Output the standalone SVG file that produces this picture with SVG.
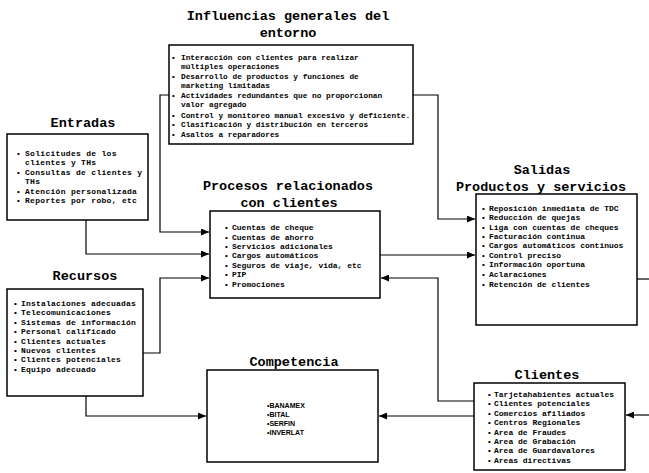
<svg xmlns="http://www.w3.org/2000/svg" width="649" height="473" viewBox="0 0 649 473">
<style>
.box{fill:#fff;stroke:#000;stroke-width:1.5}
.title{font-family:"Liberation Mono",monospace;font-weight:bold;font-size:13.5px;fill:#000;text-anchor:middle}
.it{font-family:"Liberation Mono",monospace;font-weight:bold;font-size:8px;fill:#000}
.sm{font-size:7.8px}
.ws{letter-spacing:0.3px}
.wr{letter-spacing:0.2px}
.comp{font-family:"Liberation Sans",Arial,sans-serif;font-weight:bold;font-size:7px;fill:#000}
.con{fill:none;stroke:#000;stroke-width:1.2}
</style>
<defs>
<marker id="ah" markerUnits="userSpaceOnUse" markerWidth="8" markerHeight="7" refX="8" refY="3.5" orient="auto">
<path d="M0,0 L8,3.5 L0,7 z" fill="#000"/>
</marker>
</defs>
<rect width="649" height="473" fill="#fff"/>

<g id="connectors">
<polyline class="con" points="169,95 160,95 160,232 209,232" marker-end="url(#ah)"/>
<polyline class="con" points="86,220 86,254 209,254" marker-end="url(#ah)"/>
<polyline class="con" points="143,353 160,353 160,278 209,278" marker-end="url(#ah)"/>
<polyline class="con" points="413,95 438,95 438,219 475,219" marker-end="url(#ah)"/>
<polyline class="con" points="380,255 475,255" marker-end="url(#ah)"/>
<polyline class="con" points="474,401 438,401 438,278 381,278" marker-end="url(#ah)"/>
<polyline class="con" points="474,416 379,416" marker-end="url(#ah)"/>
<polyline class="con" points="86,396 86,416 206,416" marker-end="url(#ah)"/>
<polyline class="con" points="649,415 626,415" marker-end="url(#ah)"/>
<line class="con" x1="637" y1="279" x2="649" y2="279"/>
</g>

<g id="influencias">
<text class="title" x="288" y="20">Influencias generales del</text>
<text class="title" x="288" y="37">entorno</text>
<rect class="box" x="169" y="45" width="244" height="99"/>
<text class="it sm" y="60"><tspan x="171">•</tspan><tspan x="181">Interacción con clientes para realizar</tspan></text>
<text class="it sm" x="181" y="69">múltiples operaciones</text>
<text class="it sm" y="79"><tspan x="171">•</tspan><tspan x="181">Desarrollo de productos y funciones de</tspan></text>
<text class="it sm" x="181" y="88">marketing limitadas</text>
<text class="it sm" y="98"><tspan x="171">•</tspan><tspan x="181">Actividades redundantes que no proporcionan</tspan></text>
<text class="it sm" x="181" y="107">valor agregado</text>
<text class="it sm" y="118"><tspan x="171">•</tspan><tspan x="181">Control y monitoreo manual excesivo y deficiente.</tspan></text>
<text class="it sm" y="127"><tspan x="171">•</tspan><tspan x="181">Clasificación y distribución en terceros</tspan></text>
<text class="it sm" y="137"><tspan x="171">•</tspan><tspan x="181">Asaltos a reparadores</tspan></text>
</g>

<g id="entradas">
<text class="title" x="83" y="127">Entradas</text>
<rect class="box" x="7" y="134" width="141" height="86"/>
<text class="it ws" y="156"><tspan x="16">•</tspan><tspan x="25">Solicitudes de los</tspan></text>
<text class="it ws" x="25" y="165">clientes y THs</text>
<text class="it ws" y="175"><tspan x="16">•</tspan><tspan x="25">Consultas de clientes y</tspan></text>
<text class="it ws" x="25" y="184">THs</text>
<text class="it ws" y="194"><tspan x="16">•</tspan><tspan x="25">Atención personalizada</tspan></text>
<text class="it ws" y="203"><tspan x="16">•</tspan><tspan x="25">Reportes por robo, etc</tspan></text>
</g>

<g id="procesos">
<text class="title" x="288" y="190">Procesos relacionados</text>
<text class="title" x="289" y="207">con clientes</text>
<rect class="box" x="210" y="211" width="170" height="87"/>
<text class="it" y="230"><tspan x="224">•</tspan><tspan x="232">Cuentas de cheque</tspan></text>
<text class="it" y="240"><tspan x="224">•</tspan><tspan x="232">Cuentas de ahorro</tspan></text>
<text class="it" y="249"><tspan x="224">•</tspan><tspan x="232">Servicios adicionales</tspan></text>
<text class="it" y="258"><tspan x="224">•</tspan><tspan x="232">Cargos automáticos</tspan></text>
<text class="it" y="268"><tspan x="224">•</tspan><tspan x="232">Seguros de viaje, vida, etc</tspan></text>
<text class="it" y="277"><tspan x="224">•</tspan><tspan x="232">PIP</tspan></text>
<text class="it" y="287"><tspan x="224">•</tspan><tspan x="232">Promociones</tspan></text>
</g>

<g id="salidas">
<text class="title" x="542" y="174">Salidas</text>
<text class="title" x="541" y="191">Productos y servicios</text>
<rect class="box" x="476" y="194" width="161" height="131"/>
<text class="it" y="211"><tspan x="481">•</tspan><tspan x="489">Reposición inmediata de TDC</tspan></text>
<text class="it" y="220"><tspan x="481">•</tspan><tspan x="489">Reducción de quejas</tspan></text>
<text class="it" y="230"><tspan x="481">•</tspan><tspan x="489">Liga con cuentas de cheques</tspan></text>
<text class="it" y="239"><tspan x="481">•</tspan><tspan x="489">Facturación continua</tspan></text>
<text class="it" y="248"><tspan x="481">•</tspan><tspan x="489">Cargos automáticos continuos</tspan></text>
<text class="it" y="258"><tspan x="481">•</tspan><tspan x="489">Control preciso</tspan></text>
<text class="it" y="267"><tspan x="481">•</tspan><tspan x="489">Información oportuna</tspan></text>
<text class="it" y="277"><tspan x="481">•</tspan><tspan x="489">Aclaraciones</tspan></text>
<text class="it" y="287"><tspan x="481">•</tspan><tspan x="489">Retención de clientes</tspan></text>
</g>

<g id="recursos">
<text class="title" x="85" y="280">Recursos</text>
<rect class="box" x="7" y="289" width="136" height="107"/>
<text class="it wr" y="306"><tspan x="13">•</tspan><tspan x="21">Instalaciones adecuadas</tspan></text>
<text class="it wr" y="315"><tspan x="13">•</tspan><tspan x="21">Telecomunicaciones</tspan></text>
<text class="it wr" y="325"><tspan x="13">•</tspan><tspan x="21">Sistemas de información</tspan></text>
<text class="it wr" y="334"><tspan x="13">•</tspan><tspan x="21">Personal calificado</tspan></text>
<text class="it wr" y="344"><tspan x="13">•</tspan><tspan x="21">Clientes actuales</tspan></text>
<text class="it wr" y="353"><tspan x="13">•</tspan><tspan x="21">Nuevos clientes</tspan></text>
<text class="it wr" y="362"><tspan x="13">•</tspan><tspan x="21">Clientes potenciales</tspan></text>
<text class="it wr" y="372"><tspan x="13">•</tspan><tspan x="21">Equipo adecuado</tspan></text>
</g>

<g id="competencia">
<text class="title" x="294" y="366">Competencia</text>
<rect class="box" x="207" y="370" width="171" height="92"/>
<text class="comp" x="267" y="408">•BANAMEX</text>
<text class="comp" x="267" y="417">•BITAL</text>
<text class="comp" x="267" y="426">•SERFIN</text>
<text class="comp" x="267" y="435">•INVERLAT</text>
</g>

<g id="clientes">
<text class="title" x="547" y="379">Clientes</text>
<rect class="box" x="474" y="383" width="151" height="87"/>
<text class="it" y="397"><tspan x="487">•</tspan><tspan x="494">Tarjetahabientes actuales</tspan></text>
<text class="it" y="406"><tspan x="487">•</tspan><tspan x="494">Clientes potenciales</tspan></text>
<text class="it" y="416"><tspan x="487">•</tspan><tspan x="494">Comercios afiliados</tspan></text>
<text class="it" y="425"><tspan x="487">•</tspan><tspan x="494">Centros Regionales</tspan></text>
<text class="it" y="435"><tspan x="487">•</tspan><tspan x="494">Area de Fraudes</tspan></text>
<text class="it" y="444"><tspan x="487">•</tspan><tspan x="494">Area de Grabación</tspan></text>
<text class="it" y="453"><tspan x="487">•</tspan><tspan x="494">Area de Guardavalores</tspan></text>
<text class="it" y="463"><tspan x="487">•</tspan><tspan x="494">Areas directivas</tspan></text>
</g>
</svg>
